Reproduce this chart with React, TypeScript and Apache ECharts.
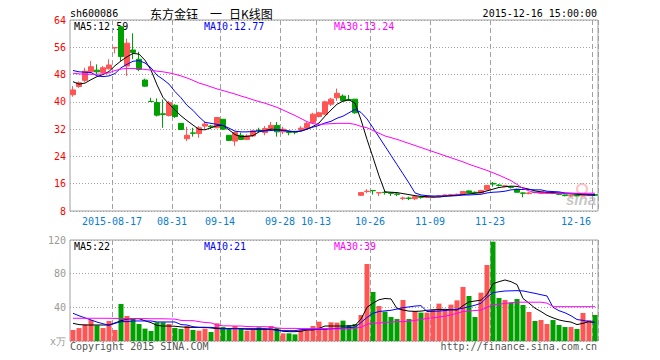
import React, { useEffect, useRef } from 'react';
import * as echarts from 'echarts';

const dates = [
  '2015-08-06','2015-08-07','2015-08-10','2015-08-11','2015-08-12','2015-08-13','2015-08-14','2015-08-17','2015-08-18','2015-08-19',
  '2015-08-20','2015-08-21','2015-08-24','2015-08-25','2015-08-26','2015-08-27','2015-08-28','2015-08-31','2015-09-01','2015-09-02',
  '2015-09-07','2015-09-08','2015-09-09','2015-09-10','2015-09-11','2015-09-14','2015-09-15','2015-09-16','2015-09-17','2015-09-18',
  '2015-09-21','2015-09-22','2015-09-23','2015-09-24','2015-09-25','2015-09-28','2015-09-29','2015-09-30','2015-10-08','2015-10-09',
  '2015-10-12','2015-10-13','2015-10-14','2015-10-15','2015-10-16','2015-10-19','2015-10-20','2015-10-21','2015-10-22','2015-10-23',
  '2015-10-26','2015-10-27','2015-10-28','2015-10-29','2015-10-30','2015-11-02','2015-11-03','2015-11-04','2015-11-05','2015-11-06',
  '2015-11-09','2015-11-10','2015-11-11','2015-11-12','2015-11-13','2015-11-16','2015-11-17','2015-11-18','2015-11-19','2015-11-20',
  '2015-11-23','2015-11-24','2015-11-25','2015-11-26','2015-11-27','2015-11-30','2015-12-01','2015-12-02','2015-12-03','2015-12-04',
  '2015-12-07','2015-12-08','2015-12-09','2015-12-10','2015-12-11','2015-12-14','2015-12-15','2015-12-16'
];

const tickDates = ['2015-08-17','2015-08-31','2015-09-14','2015-09-28','2015-10-13','2015-10-26','2015-11-09','2015-11-23','2015-12-16'];

const opens = [
  42.1,44.5,46.3,48.8,49.3,48.6,49.7,55.85,62.0,50.5,
  55.2,52.5,46.4,40.15,39.8,36.5,36.0,39.0,33.7,29.2,
  30.9,30.7,32.9,32.9,32.4,34.9,30.2,28.5,30.2,29.0,
  30.0,31.7,31.0,32.2,33.1,31.2,31.2,31.3,31.9,32.2,
  33.9,35.7,36.4,39.3,41.2,41.7,40.7,40.8,12.6,13.7,
  14.0,13.3,13.5,13.3,13.0,11.7,11.8,11.6,12.1,12.0,
  12.05,12.2,12.5,12.7,12.8,12.8,13.9,13.5,13.3,14.2,
  16.1,15.6,15.2,15.0,14.4,13.3,13.1,13.5,13.2,13.3,
  13.3,13.0,12.7,12.4,12.6,12.4,12.5,12.8
];
const closes = [
  43.5,45.6,49.0,50.3,48.8,50.0,50.8,55.9,53.3,57.2,
  54.5,49.5,44.6,40.1,36.1,36.3,39.8,35.7,31.9,30.2,
  30.8,32.4,33.5,32.7,35.4,32.0,28.7,31.0,29.0,30.0,
  31.5,31.5,32.2,33.1,31.2,32.0,31.0,31.1,32.3,33.7,
  36.4,36.8,40.0,40.8,42.5,40.3,40.5,36.8,13.4,13.8,
  13.95,13.4,13.4,13.2,12.9,11.8,11.7,12.2,12.0,12.05,
  12.1,12.4,12.7,12.8,12.9,13.7,13.3,13.4,14.0,15.5,
  15.9,15.5,15.4,14.9,13.5,13.2,13.3,13.4,13.6,13.4,
  13.2,12.9,12.5,12.5,12.4,12.6,12.7,12.6
];
const lows = [
  41.5,44.1,45.8,48.4,48.1,48.3,49.5,54.2,52.0,47.6,
  52.5,49.0,44.4,40.1,35.7,32.4,35.7,35.3,31.8,28.5,
  29.8,29.5,32.0,32.0,32.3,31.8,28.5,27.1,28.8,28.8,
  29.7,31.0,30.2,31.5,29.8,30.5,30.2,30.5,31.5,32.0,
  33.6,35.4,36.1,38.8,40.3,40.0,40.3,36.5,12.4,13.2,
  12.8,12.4,12.8,12.4,12.4,11.2,11.2,11.2,11.6,11.8,
  11.9,12.1,12.4,12.6,12.7,12.7,13.2,13.2,13.2,14.1,
  15.1,15.2,15.0,14.6,13.4,12.0,12.9,13.2,13.1,13.2,
  13.0,12.7,12.3,12.2,12.3,12.3,12.4,12.5
];
const highs = [
  44.6,46.0,50.0,52.0,51.0,50.5,52.5,55.9,62.0,58.5,
  60.1,54.7,46.8,41.2,41.0,40.7,40.3,39.3,33.8,32.7,
  32.4,32.9,34.2,33.2,35.6,35.0,30.3,31.3,31.0,30.5,
  31.8,32.4,32.9,34.1,34.1,32.7,31.5,31.5,32.9,34.1,
  36.8,37.1,40.3,41.2,43.9,42.2,42.0,40.8,13.4,14.4,
  14.0,13.4,14.0,13.4,13.2,12.2,12.2,12.4,12.4,12.2,
  12.3,12.6,12.9,13.0,13.1,13.8,14.0,13.7,14.2,15.6,
  16.5,15.9,15.6,15.2,14.6,13.5,13.6,13.6,13.7,13.6,
  13.4,13.1,12.8,12.6,12.7,12.8,12.8,12.9
];

const ma5 = [
  45.9,45.2,45.5,46.5,47.4,48.0,48.9,50.6,52.0,53.2,
  54.2,54.0,52.2,49.3,45.0,41.3,39.4,37.6,35.9,34.5,
  33.2,31.9,31.8,32.4,33.0,33.1,31.8,30.4,29.8,29.9,
  30.1,31.2,31.6,32.0,31.9,31.6,31.4,31.2,31.4,32.0,
  32.8,33.8,35.8,37.6,39.3,40.2,40.6,39.6,34.7,29.0,
  23.7,18.3,13.6,13.5,13.4,13.1,12.8,12.5,12.3,12.2,
  12.1,12.1,12.3,12.5,12.6,12.8,13.0,13.2,13.4,13.9,
  14.4,14.9,15.1,15.3,15.2,14.8,14.4,13.9,13.6,13.5,
  13.4,13.3,13.1,13.0,12.9,12.8,12.7,12.6
];
const ma10 = [
  49.2,48.8,48.7,48.6,47.6,47.4,47.6,48.3,50.0,51.0,
  51.9,52.1,51.4,50.0,47.8,46.6,45.2,43.0,41.2,39.0,
  37.5,35.6,34.0,33.7,33.4,33.1,32.3,31.4,31.2,31.2,
  31.3,31.5,31.5,31.6,31.7,31.7,31.4,31.3,31.5,32.0,
  32.6,33.1,33.8,34.3,35.2,35.8,36.8,37.8,36.9,35.0,
  32.4,29.7,27.0,24.3,21.6,18.9,16.2,13.3,12.7,12.5,
  12.4,12.4,12.4,12.4,12.5,12.7,12.7,12.8,12.9,13.3,
  13.5,13.6,13.8,14.2,14.3,14.3,14.3,14.2,14.2,13.8,
  13.7,13.6,13.3,13.2,13.1,13.0,12.9,12.8
];
const ma30 = [
  48.4,48.2,48.1,48.1,48.1,48.2,48.5,49.2,49.6,49.8,
  49.8,49.7,49.5,49.3,49.0,48.8,48.5,48.1,47.6,47.0,
  46.3,45.5,45.0,44.4,43.8,43.3,42.8,42.3,41.7,41.2,
  40.6,40.1,39.6,39.0,38.4,37.6,36.8,36.0,35.1,34.2,
  33.6,33.4,33.5,33.6,33.7,33.7,33.7,33.4,32.8,32.4,
  31.6,30.8,30.0,29.5,29.0,28.4,27.8,27.2,26.6,26.0,
  25.4,24.8,24.2,23.6,23.0,22.4,21.7,21.1,20.5,19.9,
  19.2,18.5,17.7,16.9,15.8,14.6,13.9,13.4,13.3,13.2,
  13.2,13.2,13.2,13.2,13.2,13.2,13.2,13.2
];

const volumes = [
  13.1,15.4,19.8,25.0,18.6,15.4,23.8,13.1,44.0,29.7,
  27.0,20.2,14.7,11.9,22.2,22.2,20.2,15.4,14.3,17.8,
  13.1,12.3,14.7,10.7,21.0,16.6,15.0,17.8,15.0,12.3,
  13.5,16.2,14.3,17.8,15.4,9.1,9.1,7.9,13.1,13.9,
  17.8,23.0,15.4,22.2,21.8,24.2,19.0,20.2,30.9,91.5,
  58.2,41.6,34.9,28.5,26.1,48.7,26.1,35.6,33.7,33.7,
  37.6,44.4,37.2,43.2,48.3,64.2,53.5,28.5,57.4,90.3,
  118.0,51.1,48.7,45.5,49.9,42.8,34.5,23.8,25.0,20.2,
  24.9,19.0,16.6,16.6,14.3,33.3,24.9,30.9
];
const volMa5 = [
  21.0,19.5,19.0,19.0,19.0,19.0,19.0,21.5,24.0,26.0,
  26.5,26.5,24.0,21.8,18.5,17.8,17.8,17.5,16.8,16.2,
  16.2,16.2,16.2,15.5,14.7,14.7,14.7,14.7,14.5,13.9,
  13.9,13.9,13.9,13.9,13.5,11.5,11.1,11.1,11.5,13.1,
  13.1,15.0,17.8,17.8,17.8,17.8,17.8,18.5,26.0,40.0,
  45.0,49.0,50.5,50.0,38.5,36.8,35.5,35.2,35.5,36.5,
  37.0,37.5,37.6,37.2,36.8,42.0,46.5,47.5,48.5,55.0,
  68.0,70.5,72.5,70.5,67.0,50.5,45.0,39.0,35.0,30.5,
  27.5,25.0,23.5,22.5,19.5,21.0,23.0,22.0
];
const volMa10 = [
  32.9,30.0,27.5,25.0,22.5,20.5,18.8,21.0,23.0,23.0,
  23.8,23.8,23.8,23.8,22.6,22.6,22.6,22.6,19.5,19.0,
  17.0,16.2,16.2,16.2,15.5,14.7,14.7,14.7,14.7,14.7,
  14.7,14.7,14.7,14.0,12.3,12.3,12.3,12.3,13.5,13.9,
  13.9,13.9,13.9,14.5,15.0,15.5,16.0,16.2,22.0,28.0,
  32.9,35.0,35.8,36.5,38.0,39.6,40.5,41.5,42.0,35.0,
  35.2,35.6,36.2,37.0,37.6,39.0,40.8,42.5,44.8,52.0,
  57.5,58.5,59.4,59.6,59.8,59.5,58.0,56.6,55.0,53.5,
  40.0,36.0,33.5,30.0,25.5,24.5,23.0,22.0
];
const volMa30 = [
  27.0,27.0,27.0,27.0,27.0,27.0,27.0,26.8,26.8,26.6,
  26.6,26.6,26.6,26.4,26.4,26.4,26.2,26.0,24.5,24.2,
  24.2,23.0,22.0,21.5,19.0,18.0,18.0,17.8,17.8,17.2,
  17.0,17.0,17.0,16.5,15.5,15.0,15.0,15.0,14.7,14.7,
  14.7,14.7,14.7,14.5,14.3,14.3,14.5,15.5,16.2,20.0,
  21.0,21.5,22.0,22.5,23.0,23.0,23.5,24.5,25.5,26.9,
  27.5,28.5,29.5,31.0,33.0,35.0,35.6,36.2,36.8,40.0,
  42.8,43.5,44.8,45.5,46.1,46.1,46.1,46.1,46.1,45.0,
  40.8,40.8,40.8,40.8,40.8,40.8,40.8,40.8
];

const priceMaLatest = ['12.59', '12.77', '13.24'];
const volMaLatest = ['22', '21', '39'];

const MONO = '"DejaVu Sans Mono", "Liberation Mono", monospace';
const CJK = '"Noto Sans CJK SC", sans-serif';
const UP = '#ff5555';
const DOWN = '#00a000';
const GRIDC = '#a0a0a0';

export default function App() {
  const ref = useRef<HTMLDivElement>(null);
  useEffect(() => {
    const chart = echarts.init(ref.current!, undefined, { renderer: 'svg' });
    const isTick = (_i: number, v: string) => tickDates.includes(v);
    const candleData = dates.map((_, i) => [opens[i], closes[i], lows[i], highs[i]]);
    const volData = volumes.map((v, i) => ({
      value: v,
      itemStyle: { color: closes[i] >= opens[i] ? UP : DOWN },
    }));
    const lineStyle = (color: string) => ({
      type: 'line' as const,
      showSymbol: false,
      symbol: 'none',
      smooth: false,
      lineStyle: { color, width: 1 },
      silent: true,
    });
    const textEl = (text: string, x: number, y: number, fill: string, align = 'left', font = MONO, size = 10) => ({
      type: 'text',
      x,
      y,
      silent: true,
      style: { text, fill, fontFamily: font, fontSize: size, align, verticalAlign: 'middle' },
    });

    const option: any = {
      animation: false,
      backgroundColor: '#fff',
      grid: [
        { left: 70, top: 20, width: 528, height: 191, show: true, borderColor: GRIDC, borderWidth: 1, backgroundColor: 'transparent' },
        { left: 70, top: 240, width: 528, height: 101, show: true, borderColor: GRIDC, borderWidth: 1, backgroundColor: 'transparent' },
      ],
      xAxis: [
        {
          type: 'category', gridIndex: 0, data: dates, boundaryGap: true,
          axisLine: { show: false }, axisTick: { show: false },
          axisLabel: {
            interval: isTick, margin: 5, color: '#0a7dcf', fontFamily: MONO, fontSize: 10,
            formatter: (v: string) => (v === tickDates[0] ? `{a|${v}}` : v === tickDates[tickDates.length - 1] ? `{b|${v.slice(5)}}` : `{a|${v.slice(5)}}`),
            rich: {
              a: { color: '#0a7dcf', fontFamily: MONO, fontSize: 10, padding: [0, 6, 0, 0] },
              b: { color: '#0a7dcf', fontFamily: MONO, fontSize: 10, padding: [0, 38, 0, 0] },
            },
          },
          splitLine: { show: true, interval: isTick, lineStyle: { color: GRIDC, type: [5, 3], width: 1 } },
        },
        {
          type: 'category', gridIndex: 1, data: dates, boundaryGap: true,
          axisLine: { show: false }, axisTick: { show: false }, axisLabel: { show: false },
          splitLine: { show: true, interval: isTick, lineStyle: { color: GRIDC, type: [5, 3], width: 1 } },
        },
      ],
      yAxis: [
        {
          type: 'value', gridIndex: 0, min: 8, max: 64, interval: 8, scale: false,
          axisLine: { show: false }, axisTick: { show: false },
          axisLabel: { color: '#ff0000', fontFamily: MONO, fontSize: 10, margin: 4 },
          splitLine: { show: true, lineStyle: { color: GRIDC, type: [1, 2], width: 1 } },
        },
        {
          type: 'value', gridIndex: 1, min: 0, max: 120, interval: 40,
          axisLine: { show: false }, axisTick: { show: false },
          axisLabel: {
            color: '#999', fontFamily: MONO, fontSize: 10, margin: 4,
            formatter: (v: number) => (v === 0 ? 'x万' : String(v)),
          },
          splitLine: { show: true, lineStyle: { color: GRIDC, type: [1, 2], width: 1 } },
        },
      ],
      series: [
        {
          type: 'candlestick', xAxisIndex: 0, yAxisIndex: 0, data: candleData, barWidth: 5,
          itemStyle: { color: UP, color0: DOWN, borderColor: UP, borderColor0: DOWN, borderWidth: 1 },
          silent: true,
        },
        { ...lineStyle('#000000'), xAxisIndex: 0, yAxisIndex: 0, data: ma5 },
        { ...lineStyle('#0000ff'), xAxisIndex: 0, yAxisIndex: 0, data: ma10 },
        { ...lineStyle('#ff00ff'), xAxisIndex: 0, yAxisIndex: 0, data: ma30 },
        { type: 'bar', xAxisIndex: 1, yAxisIndex: 1, data: volData, barWidth: 5, silent: true },
        { ...lineStyle('#000000'), xAxisIndex: 1, yAxisIndex: 1, data: volMa5 },
        { ...lineStyle('#0000ff'), xAxisIndex: 1, yAxisIndex: 1, data: volMa10 },
        { ...lineStyle('#ff00ff'), xAxisIndex: 1, yAxisIndex: 1, data: volMa30 },
      ],
      graphic: [
        textEl('sh600086', 70, 13, '#000'),
        textEl('东方金钰', 150, 13, '#000', 'left', CJK, 12),
        textEl('一', 216, 13, '#000', 'center', CJK, 12),
        textEl('日K线图', 229, 13, '#000', 'left', CJK, 12),
        textEl('2015-12-16 15:00:00', 597, 13, '#000', 'right'),
        textEl('MA5:' + priceMaLatest[0], 74, 26, '#000'),
        textEl('MA10:' + priceMaLatest[1], 204, 26, '#0000ff'),
        textEl('MA30:' + priceMaLatest[2], 334, 26, '#ff00ff'),
        textEl('MA5:' + volMaLatest[0], 74, 246, '#000'),
        textEl('MA10:' + volMaLatest[1], 204, 246, '#0000ff'),
        textEl('MA30:' + volMaLatest[2], 334, 246, '#ff00ff'),
        textEl('Copyright 2015 SINA.COM', 70, 346, '#555'),
        textEl('http://finance.sina.com.cn', 597, 346, '#555', 'right'),
        {
          type: 'circle', shape: { cx: 582, cy: 189, r: 5 }, silent: true,
          style: { fill: 'none', stroke: 'rgba(255,120,120,0.45)', lineWidth: 2 },
        },
        {
          type: 'text', x: 566, y: 199, silent: true,
          style: { text: 'sina', fill: 'rgba(150,150,150,0.55)', fontSize: 15, fontStyle: 'italic', fontWeight: 'bold', fontFamily: 'Arial, "Liberation Sans", sans-serif', align: 'left', verticalAlign: 'middle' },
        },
      ],
    };
    chart.setOption(option);
    return () => chart.dispose();
  }, []);
  return <div ref={ref} style={{ position: 'fixed', left: 0, top: 0, width: 660, height: 360 }} />;
}
